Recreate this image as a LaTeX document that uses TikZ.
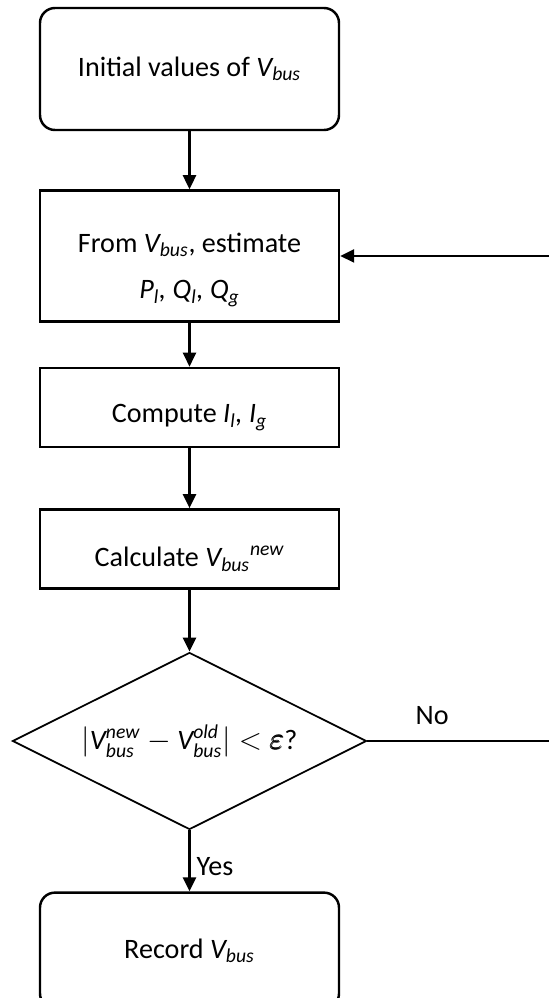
\documentclass[tikz,border=0pt]{standalone}
\usepackage{fontspec}
\setmainfont{Carlito}
\usepackage{amsmath}
\usepackage{tikz}
\usetikzlibrary{shapes.geometric, positioning, arrows.meta}
\newcommand{\vbus}{\textit{V\textsubscript{bus}}}
\newcommand{\lowered}[1]{\raisebox{-2mm}[\height][\depth]{#1}}

\begin{document}
\begin{tikzpicture}[
  font=\fontsize{16}{24}\selectfont,
  node distance=12mm,
  box/.style={
    draw, line width=1.4pt, align=center,
    minimum width=59.8mm, minimum height=15.8mm
  },
  term/.style={box, rounded corners=3mm},
  test/.style={draw, diamond, line width=1pt, aspect=2, inner sep=0pt,
    minimum width=70.8mm, minimum height=35.4mm},
  arr/.style={line width=1.4pt, -{Triangle[length=2.8mm, width=2.6mm]}},
  back line/.style={line width=0.8pt}
]
\useasboundingbox (0,0) rectangle (10.98,-19.96);

\node[term, minimum height=24.4mm] (init) at (3.79,-1.38) {Initial values of \vbus};
\node[box, minimum height=26.2mm, below=11.6mm of init] (est)
  {\lowered{\renewcommand{\arraystretch}{1.1}\begin{tabular}{@{}c@{}}From \vbus, estimate\\
   \textit{P\textsubscript{l}, Q\textsubscript{l}, Q\textsubscript{g}}\end{tabular}}};
\node[box, below=8.8mm of est] (comp) {\lowered{Compute \textit{I\textsubscript{l}, I\textsubscript{g}}}};
\node[box, below=12mm of comp] (calc) {\lowered{Calculate \textit{V\textsubscript{bus}\textsuperscript{new}}}};
\node[test, below=12.4mm of calc] (dec)
  {$|\textit{V}^{\textit{new}}_{\textit{bus}} - \textit{V}^{\textit{old}}_{\textit{bus}}|
   < \mbox{\LARGE$\pmb{\varepsilon}$}$?};
\node[term, minimum height=23.2mm, below=12.2mm of dec] (rec) {Record \vbus};

\coordinate (back) at (11.4,-14.64);

\draw[arr] (init) -- (est);
\draw[arr] (est) -- (comp);
\draw[arr] (comp) -- (calc);
\draw[arr] (calc) -- (dec);
\draw[arr] (dec) -- node[right, pos=0.6] {Yes} (rec);
\draw[back line] (dec.east) -- node[above=2mm, pos=0.32] {No} (dec.east -| back)
  -- (est.east -| back);
\draw[arr] (est.east -| back) -- (est.east);
\end{tikzpicture}
\end{document}
